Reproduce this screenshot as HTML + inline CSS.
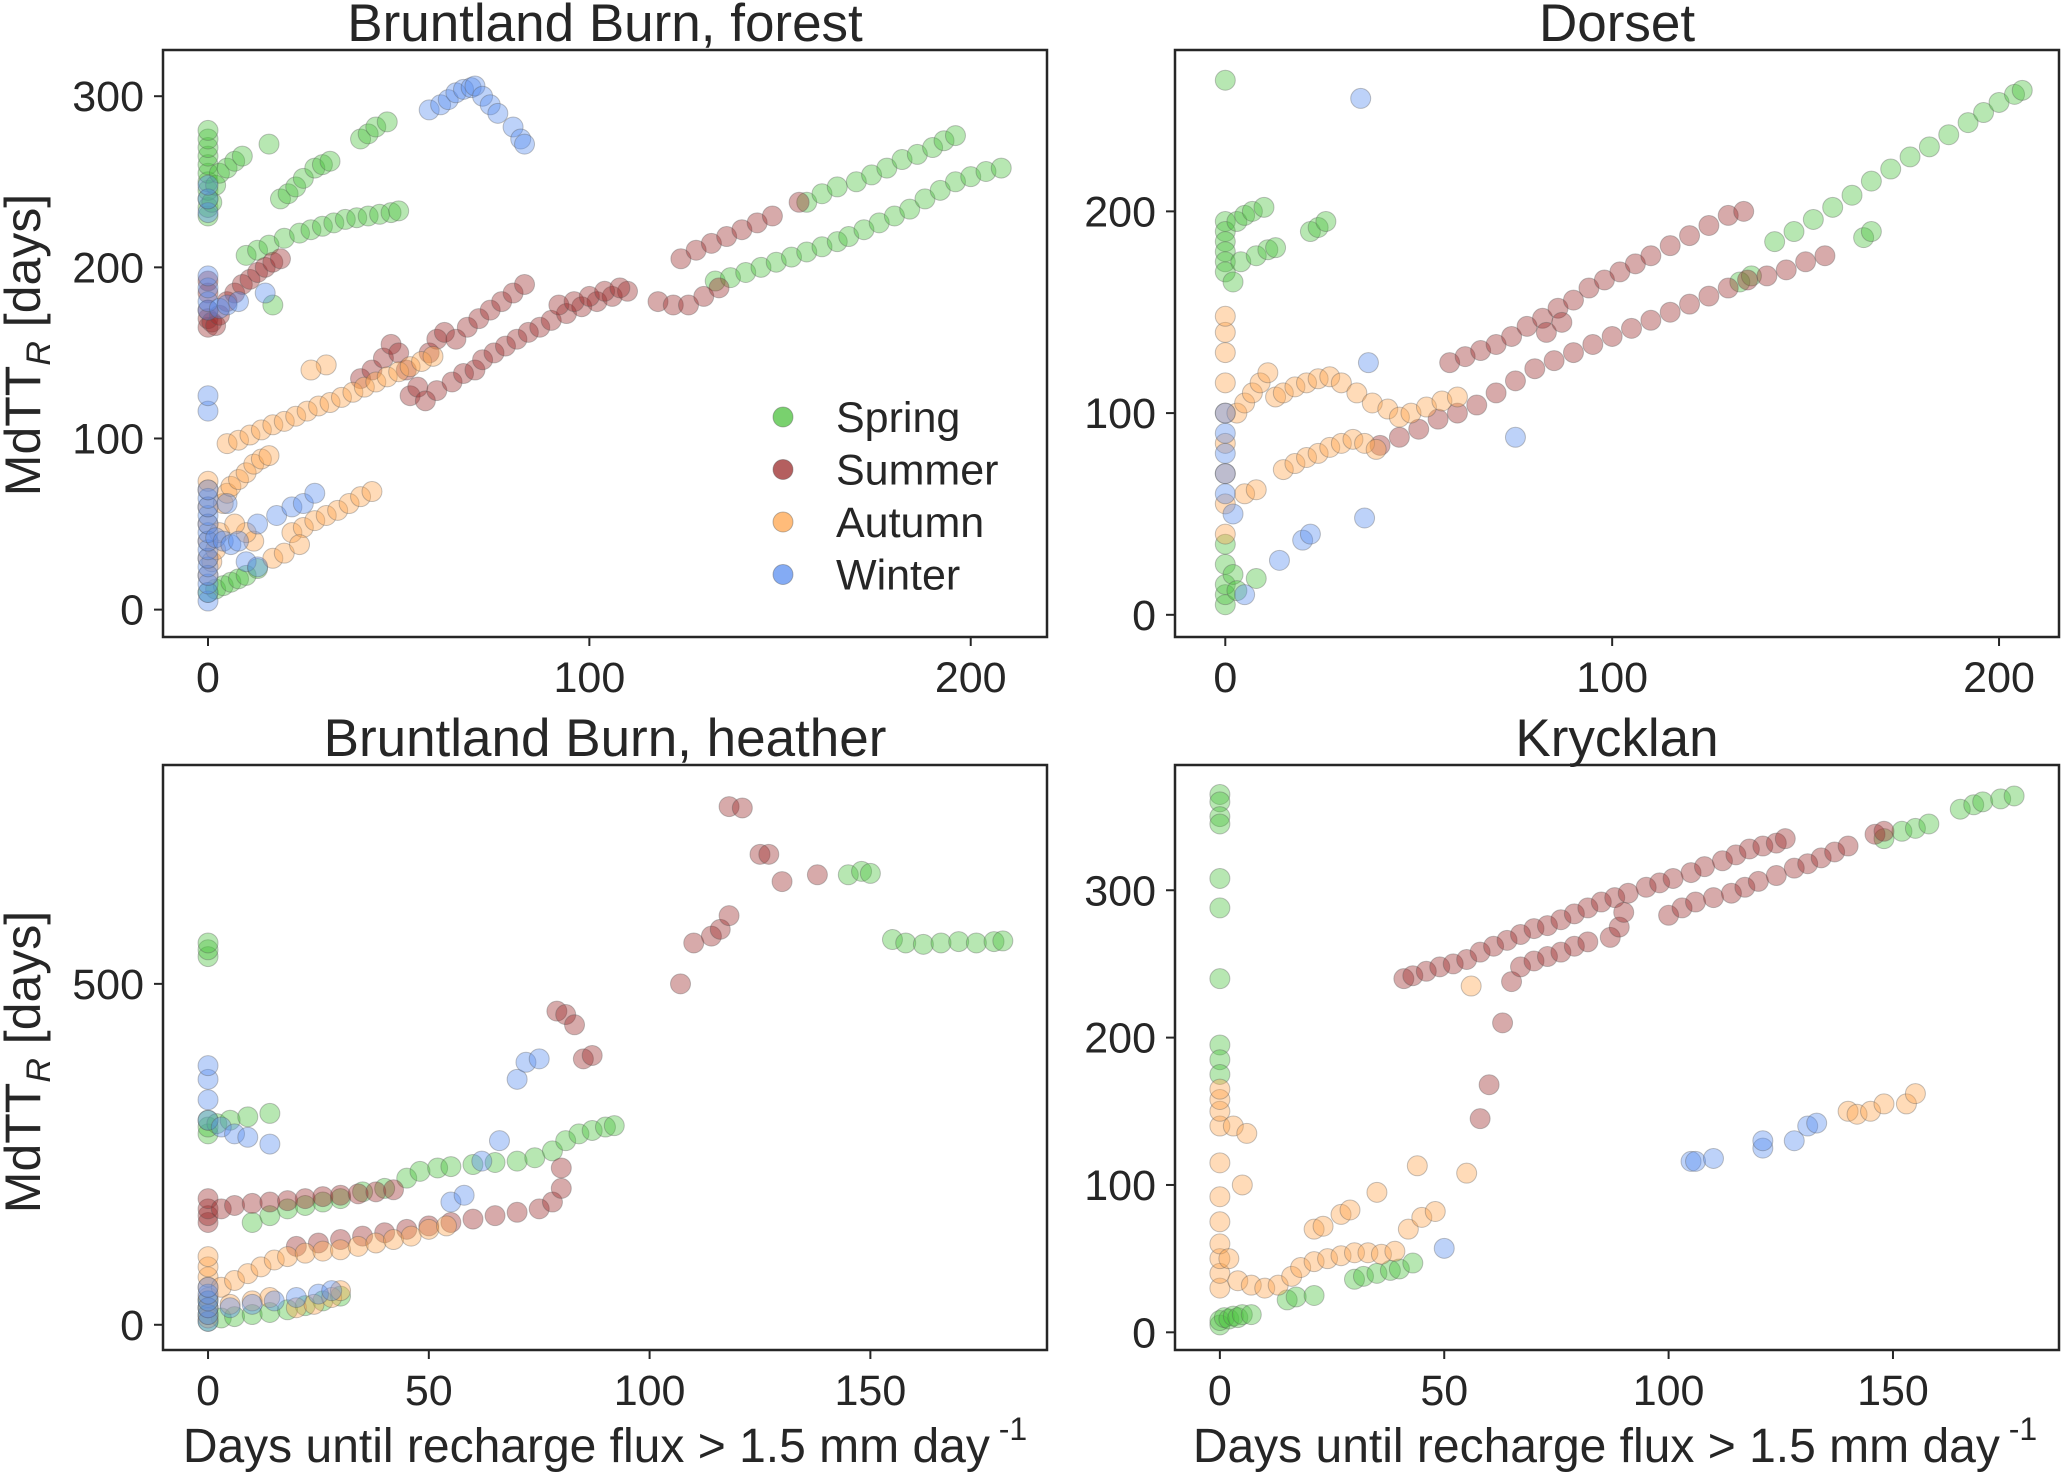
<!DOCTYPE html>
<html><head><meta charset="utf-8"><style>
body{margin:0;background:#fff}
svg{display:block;font-family:"Liberation Sans",sans-serif}
text{fill:#262626}
</style></head><body>
<svg id="chart" width="2067" height="1478" viewBox="0 0 2067 1478"></svg>
<script>
// ---------- DATA ----------
const seasons = ["Spring","Summer","Autumn","Winter"];
const seasonColors = ["#4cc23e","#9b2a2a","#ffa64d","#5b8ff0"];
const panelTitles = ["Bruntland Burn, forest","Dorset","Bruntland Burn, heather","Krycklan"];
const xTicks = [[0,100,200],[0,100,200],[0,50,100,150],[0,50,100,150]];
const yTicks = [[0,100,200,300],[0,100,200],[0,500],[0,100,200,300]];

const forestSpring=[[0,230],[0,235],[0,240],[0,245],[0,250],[0,255],[0,260],[0,265],[0,270],[0,275],[0,280],[1,238],[2,248],[3,255],[5,258],[7,262],[9,265],[16,272],[17,178],[19,240],[21,243],[23,247],[25,252],[28,258],[30,260],[32,262],[40,275],[42,278],[44,282],[47,285],[10,207],[13,210],[16,213],[20,217],[24,220],[27,222],[30,224],[33,226],[36,228],[39,229],[42,230],[45,231],[48,232],[50,233],[0,10],[2,12],[4,14],[6,16],[8,18],[10,20],[13,24],[133,192],[137,194],[141,197],[145,200],[149,203],[153,206],[157,209],[161,212],[165,215],[168,218],[172,222],[176,226],[180,230],[184,234],[188,240],[192,245],[196,250],[200,253],[204,256],[208,258],[157,238],[161,243],[165,247],[170,250],[174,254],[178,258],[182,263],[186,266],[190,270],[193,274],[196,277]];
const forestSummer=[[0,165],[0,170],[0,175],[0,185],[0,192],[1,168],[2,166],[3,172],[5,180],[7,185],[9,190],[11,193],[13,197],[15,200],[17,203],[19,205],[40,135],[43,140],[46,147],[48,155],[50,150],[52,140],[53,125],[55,130],[57,122],[58,150],[60,158],[62,162],[60,128],[64,133],[67,138],[70,140],[72,146],[75,150],[78,154],[81,158],[84,162],[87,165],[90,169],[94,173],[98,177],[102,180],[106,183],[110,186],[65,158],[68,165],[71,170],[74,175],[77,180],[80,185],[83,190],[92,178],[96,180],[100,183],[104,186],[108,188],[118,180],[122,178],[126,178],[130,183],[134,188],[124,205],[128,210],[132,214],[136,218],[140,222],[144,226],[148,230],[155,238]];
const forestAutumn=[[0,20],[0,30],[0,40],[0,50],[0,60],[0,70],[0,75],[1,28],[2,35],[3,45],[4,62],[5,68],[6,72],[8,76],[10,80],[12,85],[14,88],[16,90],[5,97],[8,99],[11,102],[14,105],[17,108],[20,110],[23,113],[26,116],[29,119],[32,121],[35,124],[38,127],[41,130],[44,133],[47,136],[50,139],[53,142],[56,145],[59,148],[31,143],[27,140],[22,45],[25,48],[28,52],[31,55],[34,58],[37,62],[40,66],[43,69],[17,30],[20,33],[24,38],[12,40],[10,45],[7,50]];
const forestWinter=[[0,5],[0,10],[0,15],[0,20],[0,25],[0,30],[0,35],[0,40],[0,45],[0,50],[0,55],[0,60],[0,65],[0,70],[0,116],[0,125],[0,175],[0,180],[0,188],[0,195],[0,232],[0,240],[0,248],[2,42],[4,40],[6,38],[8,40],[3,176],[5,178],[8,180],[15,185],[13,50],[18,55],[22,60],[25,62],[28,68],[5,62],[10,28],[13,25],[58,292],[61,295],[63,298],[65,302],[67,304],[69,305],[70,306],[72,300],[74,295],[76,290],[80,282],[82,275],[83,272]];

const dorsetSpring=[[0,265],[0,195],[0,190],[0,185],[0,180],[0,175],[0,170],[2,165],[3,195],[5,198],[7,200],[10,202],[4,175],[8,178],[11,181],[13,182],[22,190],[24,192],[26,195],[0,5],[0,10],[0,15],[0,25],[0,35],[2,20],[3,12],[8,18],[133,165],[136,168],[165,187],[167,190],[142,185],[147,190],[152,196],[157,202],[162,208],[167,215],[172,221],[177,227],[182,232],[187,238],[192,244],[196,249],[200,254],[204,258],[206,260]];
const dorsetSummer=[[58,125],[62,128],[66,131],[70,134],[74,138],[78,143],[82,147],[86,152],[90,156],[94,162],[98,166],[102,170],[106,174],[110,178],[115,183],[120,188],[125,193],[130,198],[134,200],[40,84],[45,88],[50,92],[55,97],[60,100],[65,104],[70,110],[75,116],[80,122],[85,126],[90,130],[95,134],[100,138],[105,142],[110,146],[115,150],[120,154],[125,158],[130,162],[135,166],[140,168],[145,171],[150,175],[155,178],[83,140],[87,145]];
const dorsetAutumn=[[0,40],[0,55],[0,70],[0,85],[0,100],[0,115],[0,130],[0,140],[0,148],[3,100],[5,105],[7,110],[9,115],[11,120],[13,108],[15,110],[18,113],[21,115],[24,117],[27,118],[30,115],[34,110],[38,105],[42,102],[5,60],[8,62],[15,72],[18,75],[21,78],[24,80],[27,83],[30,85],[33,87],[36,85],[39,82],[45,98],[48,100],[52,103],[56,106],[60,108]];
const dorsetWinter=[[0,60],[0,70],[0,80],[0,90],[0,100],[35,256],[37,125],[75,88],[36,48],[20,37],[22,40],[14,27],[5,10],[2,50]];

const heatherSpring=[[0,540],[0,550],[0,560],[0,280],[0,290],[0,300],[2,295],[5,300],[9,305],[14,310],[0,5],[0,15],[0,25],[0,35],[3,10],[6,12],[10,15],[14,18],[18,22],[22,28],[26,35],[30,42],[10,150],[14,160],[18,170],[22,175],[26,180],[30,185],[35,195],[40,200],[45,215],[48,225],[52,230],[55,232],[60,235],[65,238],[70,240],[74,245],[78,255],[81,270],[84,280],[87,285],[90,290],[92,292],[145,660],[148,665],[150,662],[155,565],[158,560],[162,558],[166,560],[170,562],[174,560],[178,562],[180,563]];
const heatherSummer=[[0,150],[0,160],[0,170],[0,185],[3,170],[6,175],[10,178],[14,180],[18,182],[22,185],[26,188],[30,190],[34,192],[38,195],[42,198],[20,115],[25,120],[30,125],[35,130],[40,135],[45,140],[50,145],[55,150],[60,155],[65,160],[70,165],[75,170],[78,180],[80,200],[80,230],[79,460],[81,455],[83,440],[85,390],[87,395],[107,500],[110,560],[114,570],[116,580],[118,600],[118,760],[121,758],[125,690],[127,690],[130,650],[138,660]];
const heatherAutumn=[[0,10],[0,25],[0,40],[0,55],[0,70],[0,85],[0,100],[3,55],[6,65],[9,75],[12,85],[15,95],[18,100],[22,105],[26,108],[30,110],[34,115],[38,120],[42,125],[46,130],[50,140],[54,145],[20,25],[24,30],[28,40],[30,50],[5,30],[10,35],[14,40]];
const heatherWinter=[[0,5],[0,15],[0,25],[0,35],[0,45],[0,55],[0,300],[0,330],[0,360],[0,380],[3,290],[6,280],[9,275],[14,265],[5,25],[10,30],[15,35],[20,40],[25,45],[28,50],[55,180],[58,190],[62,240],[66,270],[70,360],[72,385],[75,390]];

const kryckSpring=[[0,365],[0,360],[0,350],[0,345],[0,308],[0,288],[0,240],[0,195],[0,185],[0,175],[0,5],[0,8],[1,10],[2,9],[3,11],[4,10],[5,12],[7,12],[15,22],[17,24],[21,25],[30,36],[32,38],[35,40],[38,42],[40,43],[43,47],[148,335],[152,340],[155,342],[158,345],[165,355],[168,358],[170,360],[174,362],[177,364]];
const kryckSummer=[[41,240],[43,242],[46,245],[49,248],[52,250],[55,253],[58,258],[61,262],[64,266],[67,270],[70,274],[73,276],[76,280],[79,284],[82,288],[85,292],[88,295],[91,298],[95,302],[98,305],[101,308],[105,312],[108,316],[112,320],[115,324],[118,328],[121,330],[124,332],[126,335],[65,238],[67,248],[70,252],[73,255],[76,258],[79,262],[82,265],[87,268],[89,275],[90,285],[100,283],[103,288],[106,292],[110,295],[114,298],[117,302],[120,306],[124,310],[128,315],[131,318],[134,322],[137,326],[140,330],[58,145],[60,168],[63,210],[146,338],[148,340]];
const kryckAutumn=[[0,30],[0,40],[0,50],[0,60],[0,75],[0,92],[0,115],[0,140],[0,150],[0,158],[0,165],[3,140],[6,135],[5,100],[2,50],[4,35],[7,32],[10,30],[13,32],[16,38],[18,44],[21,48],[24,50],[27,52],[30,54],[33,54],[36,53],[39,55],[42,70],[45,78],[48,82],[21,70],[23,72],[27,80],[29,83],[35,95],[44,113],[55,108],[56,235],[140,150],[142,148],[145,150],[148,155],[153,155],[155,162]];
const kryckWinter=[[50,57],[105,116],[106,116],[110,118],[121,125],[121,130],[128,130],[131,140],[133,142]];

const panelData=[
 [forestSpring,forestSummer,forestAutumn,forestWinter],
 [dorsetSpring,dorsetSummer,dorsetAutumn,dorsetWinter],
 [heatherSpring,heatherSummer,heatherAutumn,heatherWinter],
 [kryckSpring,kryckSummer,kryckAutumn,kryckWinter]];

// ---------- LAYOUT ----------
const NS="http://www.w3.org/2000/svg";
const svg=document.getElementById('chart');
function mk(tag,attrs,parent){const e=document.createElementNS(NS,tag);for(const k in attrs)e.setAttribute(k,attrs[k]);(parent||svg).appendChild(e);return e;}
const panels=[
 {x0:163,x1:1047,y0:50,y1:637,xmin:-11.8,xmax:220,ymin:-16,ymax:327},
 {x0:1175,x1:2059,y0:50,y1:637,xmin:-13,xmax:215.5,ymin:-11,ymax:280},
 {x0:163,x1:1047,y0:765,y1:1350,xmin:-10.2,xmax:190,ymin:-37,ymax:821},
 {x0:1175,x1:2059,y0:765,y1:1350,xmin:-10,xmax:187,ymin:-12,ymax:385}];
const slugs=["forest","dorset","heather","krycklan"];

panels.forEach((p,i)=>{
 const g=mk('g',{});
 
 
 const sx=v=>p.x0+(v-p.xmin)/(p.xmax-p.xmin)*(p.x1-p.x0);
 const sy=v=>p.y1-(v-p.ymin)/(p.ymax-p.ymin)*(p.y1-p.y0);
 panelData[i].forEach((pts,s)=>{
  const sg=mk('g',{},g);
  
  
  pts.forEach(d=>{
   const c=mk('circle',{cx:sx(d[0]),cy:sy(d[1]),r:10,fill:seasonColors[s],'fill-opacity':0.4,stroke:'#555','stroke-opacity':0.35,'stroke-width':1},sg);
   
   
  });
 });
 const fr=mk('rect',{x:p.x0,y:p.y0,width:p.x1-p.x0,height:p.y1-p.y0,fill:'none',stroke:'#262626','stroke-width':2.5},g);
 
 
 xTicks[i].forEach(t=>{
  const x=sx(t);
  mk('line',{x1:x,x2:x,y1:p.y1,y2:p.y1+9,stroke:'#262626','stroke-width':2},g);
  const tx=mk('text',{x:x,y:p.y1+55,'text-anchor':'middle','font-size':43},g);
  tx.textContent=t;
  
  
 });
 yTicks[i].forEach(t=>{
  const y=sy(t);
  mk('line',{x1:p.x0-9,x2:p.x0,y1:y,y2:y,stroke:'#262626','stroke-width':2},g);
  const tx=mk('text',{x:p.x0-19,y:y+15,'text-anchor':'end','font-size':43},g);
  tx.textContent=t;
  
  
 });
 const ti=mk('text',{x:(p.x0+p.x1)/2,y:p.y0-9,'text-anchor':'middle','font-size':53},g);
 ti.textContent=panelTitles[i];
 
 
});

[345,1062].forEach((cy,k)=>{
 const t=mk('text',{x:0,y:0,'text-anchor':'middle','font-size':50,transform:`translate(40,${cy}) rotate(-90)`});
 t.innerHTML='MdTT<tspan font-size="34" font-style="italic" dy="10">R</tspan><tspan dy="-10"> [days]</tspan>';
 
 
});
[605,1615].forEach(cx=>{
 const t=mk('text',{x:cx,y:1462,'text-anchor':'middle','font-size':48});
 t.innerHTML='Days until recharge flux &gt; 1.5 mm day<tspan font-size="32" dy="-22"> -1</tspan>';
 
 
});
const lg=mk('g',{});


seasons.forEach((s,k)=>{
 const y=417+k*52.5;
 const e=mk('g',{},lg);
 
 
 mk('circle',{cx:783,cy:y,r:10,fill:seasonColors[k],'fill-opacity':0.75,stroke:'#555','stroke-opacity':0.4},e);
 const t=mk('text',{x:836,y:y+15,'font-size':43},e);
 t.textContent=s;
});
</script>
</body></html>
